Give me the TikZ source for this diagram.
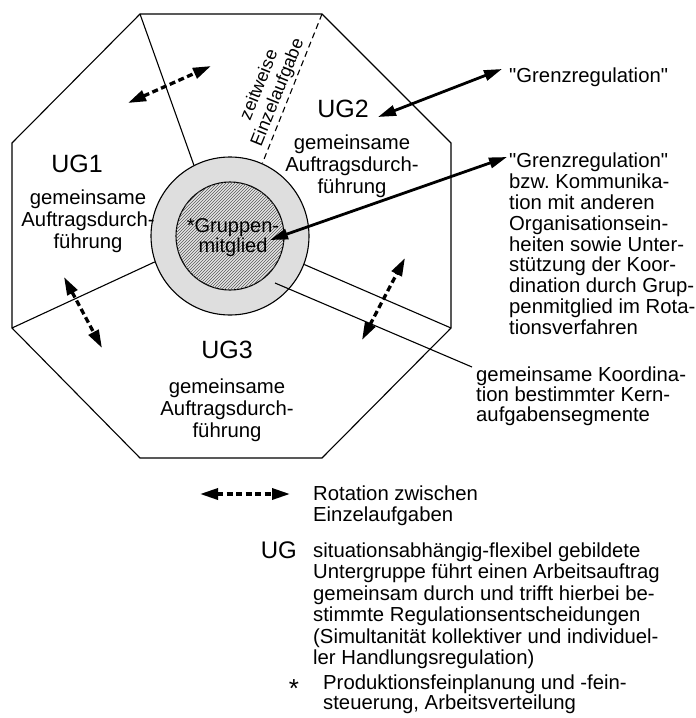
\documentclass[tikz,border=0pt]{standalone}
\usepackage{fontspec}
\setmainfont{Liberation Sans}
\usetikzlibrary{arrows.meta,patterns}
\frenchspacing
\begin{document}
\begin{tikzpicture}[x=1pt,y=-1pt,
  txt/.style={inner sep=0pt,font=\fontsize{20.3}{22}\selectfont},
  ug/.style={inner sep=0pt,font=\fontsize{25}{27}\selectfont},
  edge/.style={line width=1.1pt},
  solidarrow/.style={line width=2.8pt,{Triangle[length=18pt,width=10.5pt]}-{Triangle[length=18pt,width=10.5pt]}},
  rotarrow/.style={line width=3.3pt,dash pattern=on 6pt off 3.5pt,{Triangle[length=18pt,width=11pt]}-{Triangle[length=18pt,width=11pt]}}
]
\useasboundingbox (0,0) rectangle (696,718);

% octagon of the working group
\coordinate (v1) at (140,14);
\coordinate (v2) at (322,14);
\coordinate (v3) at (451,143);
\coordinate (v4) at (451,328);
\coordinate (v5) at (322,458);
\coordinate (v6) at (140,458);
\coordinate (v7) at (12,328);
\coordinate (v8) at (12,143);
\draw[edge] (v1) -- (v2) -- (v3) -- (v4) -- (v5) -- (v6) -- (v7) -- (v8) -- cycle;

% central rings
\node[circle,minimum size=158pt,inner sep=0pt,draw,line width=1.1pt,fill=black!13] (ring) at (230,236) {};
\node[circle,minimum size=108pt,inner sep=0pt,draw,line width=1.1pt,fill=black!10,
      postaction={pattern=north east lines,pattern color=black!65}] (core) at (230,236) {};

% sector boundaries
\draw[edge] (v1) -- (ring.117.5);
\draw[edge,dash pattern=on 6pt off 4pt] (v2) -- (ring.66);
\draw[edge] (v7) -- (ring.199);
\draw[edge] (ring.-21) -- (v4);

% labels of the subgroups
\node[ug,anchor=base] (ug1) at (77,172) {UG1};
\node[txt,align=center,anchor=north] (t1) at (88,189.5) {gemeinsame\\Auftragsdurch-\\führung};
\node[ug,anchor=base] (ug2) at (343,117) {UG2};
\node[txt,align=center,anchor=north] (t2) at (352,134.5) {gemeinsame\\Auftragsdurch-\\führung};
\node[ug,anchor=base] (ug3) at (227,358) {UG3};
\node[txt,align=center,anchor=north] (t3) at (227,378.8) {gemeinsame\\Auftragsdurch-\\führung};

\node[txt,font=\fontsize{18}{20}\selectfont,align=center,rotate=68] (zw) at (269,89) {zeitweise\\Einzelaufgabe};

\node[txt,font=\fontsize{20}{20}\selectfont,align=center,anchor=north] (gm) at (233,218.7) {*Gruppen-\\mitglied};

% right-hand annotations
\node[txt,anchor=base west] (gr1) at (509,82) {\textquotedbl Grenzregulation\textquotedbl};
\node[txt,font=\fontsize{20.3}{20.9}\selectfont,align=left,anchor=north west] (gr2) at (509,152.5)
  {\textquotedbl Grenzregulation\textquotedbl\\bzw. Kommunika-\\tion mit anderen\\Organisationsein-\\heiten sowie Unter-\\stützung der Koor-\\dination durch Grup-\\penmitglied im Rota-\\tionsverfahren};
\node[txt,font=\fontsize{20.3}{20}\selectfont,align=left,anchor=north west] (ko) at (476,366.5)
  {gemeinsame Koordina-\\tion bestimmter Kern-\\aufgabensegmente};

% pointer to the coordination ring
\coordinate (kp) at (275,283);
\coordinate (kend) at (472,367);
\draw[edge] (kp) -- (kend);

% boundary regulation arrows
\coordinate (ga) at (378,117);
\coordinate (gb) at (502,69);
\draw[solidarrow] (ga) -- (gb);
\coordinate (gc) at (270,240);
\coordinate (gd) at (507,157);
\draw[solidarrow] (gc) -- (gd);

% rotation between single tasks
\coordinate (r1a) at (128,103);
\coordinate (r1b) at (211,66);
\draw[rotarrow] (r1a) -- (r1b);
\coordinate (r2a) at (64,277);
\coordinate (r2b) at (102,348);
\draw[rotarrow] (r2a) -- (r2b);
\coordinate (r3a) at (362,340);
\coordinate (r3b) at (405,258);
\draw[rotarrow] (r3a) -- (r3b);

% legend
\coordinate (la) at (200,494);
\coordinate (lb) at (290,494);
\draw[rotarrow] (la) -- (lb);
\node[txt,font=\fontsize{20.3}{21}\selectfont,align=left,anchor=north west] (l1) at (313,485.5)
  {Rotation zwischen\\Einzelaufgaben};
\node[ug,font=\fontsize{24}{26}\selectfont,anchor=base east] (lug) at (297,558) {UG};
\node[txt,font=\fontsize{20.3}{21.4}\selectfont,align=left,anchor=north west] (l2) at (313,542.5)
  {situationsabhängig-flexibel gebildete\\Untergruppe führt einen Arbeitsauftrag\\gemeinsam durch und trifft hierbei be-\\stimmte Regulationsentscheidungen\\(Simultanität kollektiver und individuel-\\ler Handlungsregulation)};
\node[inner sep=0pt,font=\fontsize{26}{28}\selectfont,anchor=base] (lst) at (294,697) {*};
\node[txt,font=\fontsize{20.3}{20}\selectfont,align=left,anchor=north west] (l3) at (323,674.5)
  {Produktionsfeinplanung und -fein-\\steuerung, Arbeitsverteilung};
\end{tikzpicture}
\end{document}
